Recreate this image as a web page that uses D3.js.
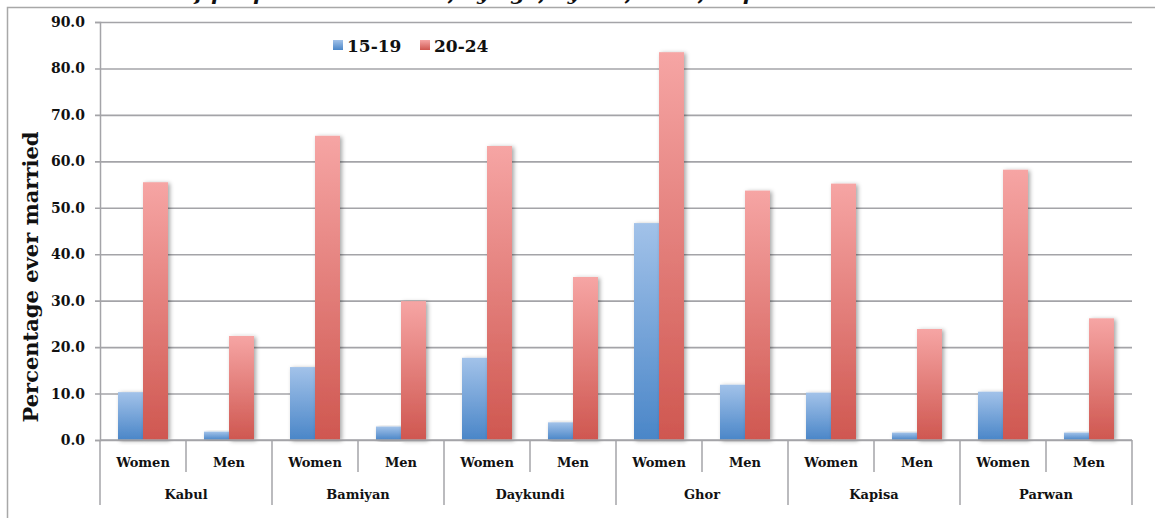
<!DOCTYPE html>
<html>
<head>
<meta charset="utf-8">
<script src="https://cdn.jsdelivr.net/npm/d3@7"></script>
<style>
  body { margin: 0; background: #fff; }
  svg { display: block; font-family: "DejaVu Serif", serif; }
</style>
</head>
<body>
<svg></svg>
<script>
const svgWidth = 1155,
  svgHeight = 518,
  margin = {top: 22, right: 23, bottom: 78, left: 100},
  plotWidth = svgWidth - margin.left - margin.right,
  plotHeight = svgHeight - margin.top - margin.bottom,
  gridColor = '#a4a4a8',
  textColor = '#111'

// data
const provinces = ['Kabul', 'Bamiyan', 'Daykundi', 'Ghor', 'Kapisa', 'Parwan']
const sexes = ['Women', 'Men']
const ageGroups = ['15-19', '20-24']
const married1519 = [10.3, 1.8, 15.7, 2.9, 17.7, 3.8, 46.7, 11.9, 10.2, 1.6, 10.4, 1.6]
const married2024 = [55.5, 22.4, 65.5, 29.9, 63.3, 35.1, 83.5, 53.7, 55.2, 23.9, 58.2, 26.2]
const yTicks = [0, 10, 20, 30, 40, 50, 60, 70, 80, 90]

const categories = []
provinces.forEach(p => sexes.forEach(s => categories.push(p + '|' + s)))
const rows = categories.map((c, i) => ({key: c, values: [married1519[i], married2024[i]]}))

const svg = d3.select('svg')
  .attr('width', svgWidth)
  .attr('height', svgHeight)

const defs = svg.append('defs')
const gradStops = [
  {id: 'grad-blue', top: '#a2c2e9', bottom: '#4a86c8'},
  {id: 'grad-red', top: '#f6a5a4', bottom: '#cf5750'}
]
gradStops.forEach(g => {
  const lg = defs.append('linearGradient')
    .attr('id', g.id)
    .attr('x1', 0).attr('y1', 0).attr('x2', 0).attr('y2', 1)
  lg.append('stop').attr('offset', '0%').attr('stop-color', g.top)
  lg.append('stop').attr('offset', '100%').attr('stop-color', g.bottom)
})
const shadow = defs.append('filter')
  .attr('id', 'bar-shadow')
  .attr('x', '-30%').attr('y', '-10%').attr('width', '160%').attr('height', '120%')
shadow.append('feDropShadow')
  .attr('dx', 2).attr('dy', 1)
  .attr('stdDeviation', 2)
  .attr('flood-color', '#000')
  .attr('flood-opacity', 0.35)

// title, mostly cut off by the top edge (only descenders show)
svg.append('text')
  .attr('x', 105)
  .attr('y', 0)
  .attr('font-size', 21)
  .attr('font-weight', 'bold')
  .attr('font-style', 'italic')
  .attr('fill', textColor)
  .text('Share of people ever married, by age, by sex, 2010, in provinces')

// outer chart frame
svg.append('rect')
  .attr('x', 7.5).attr('y', 7.5)
  .attr('width', svgWidth + 10).attr('height', svgHeight + 10)
  .attr('fill', 'none')
  .attr('stroke', '#a8a8a8')
  .attr('stroke-width', 1.5)

const x0 = d3.scaleBand()
  .domain(categories)
  .range([margin.left, margin.left + plotWidth])

const x1 = d3.scaleBand()
  .domain(ageGroups)
  .range([0, x0.bandwidth()])
  .paddingInner(0)
  .paddingOuter(0.72)

const y = d3.scaleLinear()
  .domain([0, 90])
  .range([margin.top + plotHeight, margin.top])

const color = d3.scaleOrdinal()
  .domain(ageGroups)
  .range(['url(#grad-blue)', 'url(#grad-red)'])

// y axis with gridlines
const yAxis = d3.axisLeft(y)
  .tickValues(yTicks)
  .tickFormat(d3.format('.1f'))
  .tickSize(5)
  .tickPadding(10)

const yAxisG = svg.append('g')
  .attr('transform', `translate(${margin.left},0)`)
  .call(yAxis)
yAxisG.select('.domain').attr('stroke', gridColor).attr('stroke-width', 1.5)
yAxisG.selectAll('.tick line')
  .attr('x1', -5)
  .attr('x2', plotWidth)
  .attr('stroke', gridColor)
  .attr('stroke-width', 1.6)
yAxisG.selectAll('.tick text')
  .attr('font-family', '"DejaVu Serif", serif')
  .attr('font-size', 14)
  .attr('font-weight', 'bold')
  .attr('fill', textColor)

svg.append('text')
  .attr('transform', `translate(38, ${(margin.top + margin.top + plotHeight) / 2 + 46}) rotate(-90)`)
  .attr('text-anchor', 'middle')
  .attr('font-size', 21)
  .attr('font-weight', 'bold')
  .attr('fill', textColor)
  .text('Percentage ever married')

// bars
const groups = svg.append('g').selectAll('.group')
  .data(rows)
  .join('g')
  .attr('class', 'group')
  .attr('transform', d => `translate(${x0(d.key)},0)`)

groups.selectAll('rect')
  .data(d => d.values.map((v, i) => ({age: ageGroups[i], value: v})))
  .join('rect')
  .attr('x', d => x1(d.age))
  .attr('y', d => y(d.value))
  .attr('width', x1.bandwidth())
  .attr('height', d => y(0) - y(d.value))
  .attr('fill', d => color(d.age))
  .attr('filter', 'url(#bar-shadow)')

// category axis (two levels)
const baseY = y(0)
const xAxisG = svg.append('g')
xAxisG.append('line')
  .attr('x1', margin.left).attr('x2', margin.left + plotWidth)
  .attr('y1', baseY).attr('y2', baseY)
  .attr('stroke', gridColor).attr('stroke-width', 1.6)

const sepData = d3.range(categories.length + 1)
xAxisG.selectAll('.sep')
  .data(sepData)
  .join('line')
  .attr('class', 'sep')
  .attr('x1', i => margin.left + i * x0.step())
  .attr('x2', i => margin.left + i * x0.step())
  .attr('y1', baseY)
  .attr('y2', i => i % 2 === 0 ? baseY + 65 : baseY + 32)
  .attr('stroke', gridColor)
  .attr('stroke-width', 1.5)

xAxisG.selectAll('.sex-label')
  .data(categories)
  .join('text')
  .attr('class', 'sex-label')
  .attr('x', d => x0(d) + x0.bandwidth() / 2)
  .attr('y', baseY + 27)
  .attr('text-anchor', 'middle')
  .attr('font-size', 13)
  .attr('font-weight', 'bold')
  .attr('fill', textColor)
  .text(d => d.split('|')[1])

xAxisG.selectAll('.prov-label')
  .data(provinces)
  .join('text')
  .attr('class', 'prov-label')
  .attr('x', d => x0(d + '|Women') + x0.step())
  .attr('y', baseY + 59)
  .attr('text-anchor', 'middle')
  .attr('font-size', 13)
  .attr('font-weight', 'bold')
  .attr('fill', textColor)
  .text(d => d)

// legend
const legend = svg.append('g')
  .attr('transform', 'translate(333,40)')
const legendItems = legend.selectAll('g')
  .data(ageGroups)
  .join('g')
  .attr('transform', (d, i) => `translate(${i * 87},0)`)
legendItems.append('rect')
  .attr('width', 10).attr('height', 10)
  .attr('fill', d => color(d))
legendItems.append('text')
  .attr('x', 14)
  .attr('y', 12)
  .attr('font-size', 17)
  .attr('font-weight', 'bold')
  .attr('fill', textColor)
  .text(d => d)
</script>
</body>
</html>
